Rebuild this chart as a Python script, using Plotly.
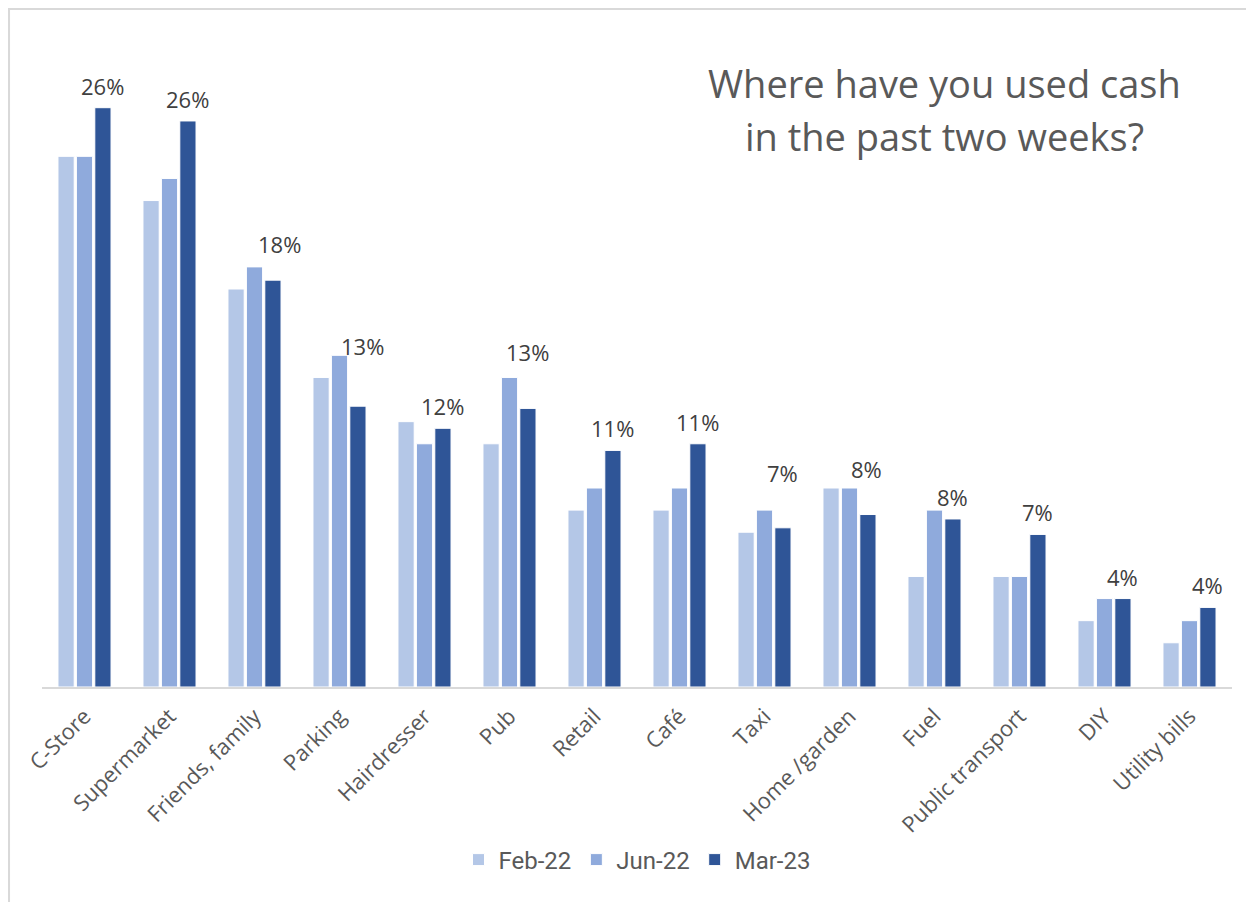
import plotly.graph_objects as go

categories = ["C-Store", "Supermarket", "Friends, family", "Parking", "Hairdresser", "Pub",
              "Retail", "Café", "Taxi", "Home /garden", "Fuel", "Public transport", "DIY", "Utility bills"]
feb22 = [24, 22, 18, 14, 12, 11, 8, 8, 7, 9, 5, 5, 3, 2]
jun22 = [24, 23, 19, 15, 11, 14, 9, 9, 8, 9, 8, 5, 4, 3]
mar23 = [26.2, 25.6, 18.4, 12.7, 11.7, 12.6, 10.7, 11.0, 7.2, 7.8, 7.6, 6.9, 4.0, 3.6]
mar23_labels = ["26%", "26%", "18%", "13%", "12%", "13%", "11%", "11%", "7%", "8%", "8%", "7%", "4%", "4%"]
series_names = ["Feb-22", "Jun-22", "Mar-23"]
colors = ["#B4C7E7", "#8FAADC", "#2F5597"]

# label placement (pixels above the Mar-23 bar top; manual nudges as in the original)
LABEL_GAP = 22
label_nudge = {"Friends, family": (7, 36.5), "Parking": (4.5, 60.5), "Pub": (0, 56.5),
               "Taxi": (0, 54.5), "Home /garden": (-1, 45.5)}

# page has an 8px body margin; figure is sized/shifted to compensate
OFF = 8
W, H = 1254 - OFF, 902 - OFF
ml, mr, mt, mb = 41.5 - OFF, 21.5, 90 - OFF, 215
BARGAP = 0.35

fig = go.Figure()
for name, vals, col in zip(series_names, [feb22, jun22, mar23], colors):
    fig.add_trace(go.Bar(x=categories, y=vals, name=name,
                         marker=dict(color=col, line=dict(color="white", width=1))))

pw = W - ml - mr
ph = H - mt - mb
def px_x(p):
    return (p - OFF - ml) / pw
def px_y(p):
    return (H - mb - (p - OFF)) / ph

slot = (1 - BARGAP) / len(series_names)
annotations = []
for i, (cat, v, lab) in enumerate(zip(categories, mar23, mar23_labels)):
    dx, dy = label_nudge.get(cat, (0, LABEL_GAP))
    annotations.append(dict(text=lab, x=i + slot, y=v, xref="x", yref="y",
                            xshift=dx, yshift=dy, xanchor="center", yanchor="middle",
                            showarrow=False,
                            font=dict(size=22, color="#404040", family="Open Sans, sans-serif")))
annotations += [
    dict(text="Where have you used cash", x=px_x(945), y=px_y(83), xref="paper", yref="paper",
         xanchor="center", yanchor="middle", showarrow=False,
         font=dict(size=38, color="#595959", family="Open Sans, sans-serif")),
    dict(text="in the past two weeks?", x=px_x(945), y=px_y(136), xref="paper", yref="paper",
         xanchor="center", yanchor="middle", showarrow=False,
         font=dict(size=38, color="#595959", family="Open Sans, sans-serif")),
]

fig.update_layout(
    width=W, height=H,
    margin=dict(l=ml, r=mr, t=mt, b=mb),
    paper_bgcolor="white", plot_bgcolor="white",
    barmode="group", bargap=BARGAP, bargroupgap=0.12,
    showlegend=True,
    legend=dict(orientation="h", x=0.5, xanchor="center", y=px_y(860), yanchor="middle",
                font=dict(size=24, color="#595959", family="Roboto, sans-serif"),
                itemwidth=30, traceorder="normal"),
    xaxis=dict(tickangle=-45, showline=True, linecolor="#D9D9D9", linewidth=1.5,
               tickfont=dict(size=22, color="#595959", family="Open Sans, sans-serif"),
               ticks="", showgrid=False, ticklabelstandoff=6),
    yaxis=dict(range=[0, 27], visible=False, showgrid=False),
    font=dict(family="Open Sans, sans-serif"),
    annotations=annotations,
    shapes=[dict(type="rect", xref="paper", yref="paper",
                 x0=px_x(8.5), x1=px_x(1248.5), y0=px_y(910), y1=px_y(9),
                 line=dict(color="#D9D9D9", width=2), fillcolor="rgba(0,0,0,0)", layer="below")],
)

fig.write_html("out.html")
